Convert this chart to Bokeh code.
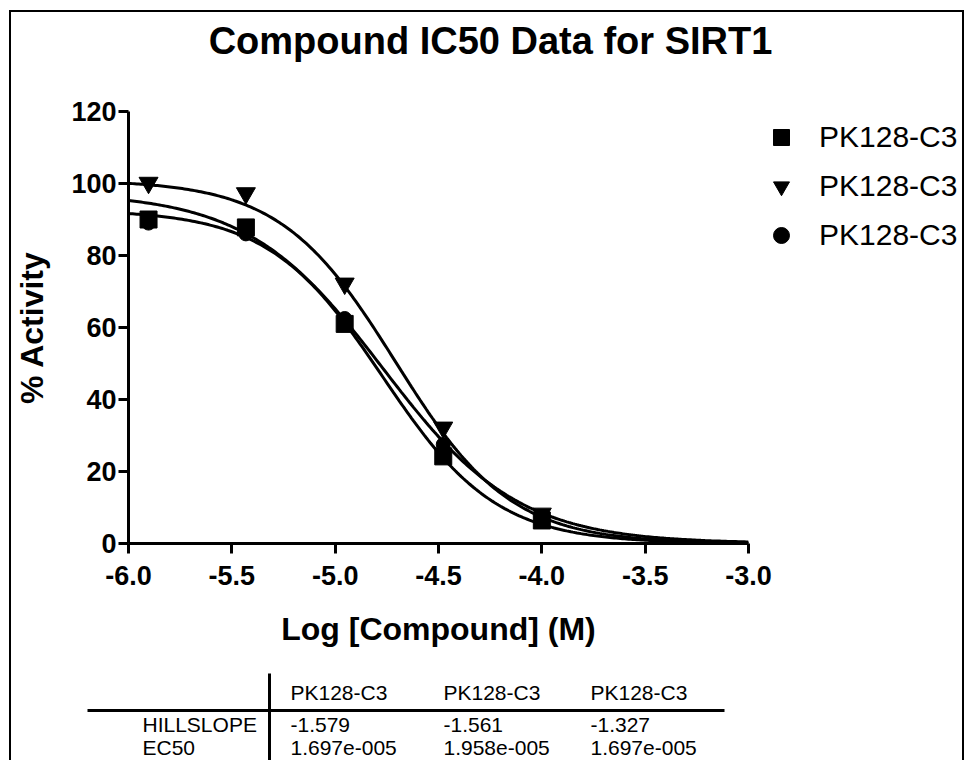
import numpy as np
from bokeh.plotting import figure
from bokeh.models import (Range1d, FixedTicker, PrintfTickFormatter, Legend, LegendItem,
                          ColumnDataSource, Spacer)
from bokeh.layouts import column, row
from bokeh.embed import file_html
from bokeh.resources import INLINE
from bokeh.core.properties import value

# ---------------- data ----------------
log_conc = [-5.903, -5.432, -4.954, -4.477, -4.000]          # Log [Compound] (M)
series_names = ["PK128-C3", "PK128-C3", "PK128-C3"]
series_markers = ["square", "inverted_triangle", "circle"]
act_square = [90.0, 87.8, 61.0, 24.2, 6.4]
act_triangle = [100.2, 97.3, 72.2, 32.2, 8.3]
act_circle = [89.0, 86.0, 62.5, 27.5, 6.5]
hillslope = [-1.579, -1.561, -1.327]
ec50 = [1.697e-05, 1.958e-05, 1.697e-05]
ec50_text = ["1.697e-005", "1.958e-005", "1.697e-005"]
fit_top = [92.7, 101.0, 97.5]
fit_bottom = [0.0, 0.0, 0.0]
x_ticks = [-6.0, -5.5, -5.0, -4.5, -4.0, -3.5, -3.0]
y_ticks = [0, 20, 40, 60, 80, 100, 120]
table_rows = ["HILLSLOPE", "EC50"]

TITLE = "Compound IC50 Data for SIRT1"
FONT = "Liberation Sans"

# ---------------- geometry (picture pixels) ----------------
PAD_L, PAD_T = 9, 10          # white space outside the frame border
BORDER = 2
W = 951                       # total inner width
CX, CY = PAD_L + BORDER, PAD_T + BORDER   # inner origin in picture
FR_L, FR_R, FR_T, FR_B = 128, 748, 111, 543
TOP_PAD = 20                  # room above the frame for the "120" label
H_TOP = FR_T - TOP_PAD - CY   # title strip
MAIN_TOP = CY + H_TOP
TAB_TOP = 655
H_MAIN = TAB_TOP - MAIN_TOP   # plot strip (frame + x axis)
H_TAB = 105                   # table strip
LEG_L = 772                   # left edge of legend strip
W_MAIN = LEG_L - CX
W_LEG = W - W_MAIN


def strip(width, height, x0=0):
    f = figure(width=width, height=height, output_backend="svg", toolbar_location=None,
               x_range=Range1d(x0, x0 + width), y_range=Range1d(height, 0),
               min_border_left=0, min_border_right=0, min_border_top=0,
               min_border_bottom=0, frame_align=False)
    f.axis.visible = False
    f.grid.visible = False
    f.outline_line_color = None
    f.border_fill_color = "white"
    f.background_fill_color = "white"
    return f


# ---------------- title strip ----------------
ptop = strip(W, H_TOP)
ptop.text(x=[490 - CX], y=[40 - CY], text=[TITLE], text_font=value(FONT),
          text_font_style="bold", text_font_size="38px", text_align="center",
          text_baseline="middle", text_color="black")

# ---------------- main plot ----------------
p = figure(width=W_MAIN, height=H_MAIN, output_backend="svg", toolbar_location=None,
           x_range=Range1d(x_ticks[0], x_ticks[-1]), y_range=Range1d(y_ticks[0], y_ticks[-1]),
           min_border_left=FR_L - CX, min_border_right=W_MAIN - (FR_R - CX),
           min_border_top=TOP_PAD, min_border_bottom=H_MAIN - (FR_B - MAIN_TOP),
           frame_align=False)
p.outline_line_color = None
p.grid.visible = False
p.background_fill_color = "white"
p.border_fill_color = "white"

# fitted curves (four-parameter logistic with the fitted Hill slope / EC50)
x_fit = np.linspace(x_ticks[0], x_ticks[-1], 301)
for top, bot, h, ec in zip(fit_top, fit_bottom, hillslope, ec50):
    y_fit = bot + (top - bot) / (1 + 10 ** ((np.log10(ec) - x_fit) * h))
    p.line(x_fit, y_fit, line_color="black", line_width=3)

series_y = [act_square, act_triangle, act_circle]
series_size = [17, 19, 14]
for ys, mk, sz in zip(series_y, series_markers, series_size):
    p.scatter(log_conc, ys, marker=mk, size=sz, color="black")

for ax in p.xaxis + p.yaxis:
    ax.axis_line_width = 3
    ax.major_tick_line_width = 3
    ax.major_tick_out = 10
    ax.major_tick_in = 0
    ax.minor_tick_out = 0
    ax.minor_tick_in = 0
    ax.major_label_text_font = FONT
    ax.major_label_text_font_style = "bold"
    ax.major_label_text_font_size = "27px"
    ax.major_label_text_color = "black"
    ax.axis_label_text_font = FONT
    ax.axis_label_text_font_style = "bold"
    ax.axis_label_text_color = "black"
    ax.axis_label_text_font_size = "32px"

p.xaxis.ticker = FixedTicker(ticks=x_ticks)
p.xaxis.formatter = PrintfTickFormatter(format="%.1f")
p.xaxis.axis_label = "Log [Compound] (M)"
p.xaxis.major_label_standoff = 12
p.xaxis.axis_label_standoff = 23

p.yaxis.ticker = FixedTicker(ticks=y_ticks)
p.yaxis.axis_label = "% Activity"
p.yaxis.major_label_standoff = 2
p.yaxis.axis_label_standoff = 18

# ---------------- legend strip ----------------
# the series are also added here, far outside the strip's visible x range, so the
# legend has real renderers to draw its symbols from
pleg = strip(W_LEG, H_MAIN, x0=1000)
items = []
for name, ys, mk in zip(series_names, series_y, series_markers):
    r = pleg.scatter(log_conc, ys, marker=mk, size=17, color="black")
    items.append(LegendItem(label=name, renderers=[r]))
legend = Legend(items=items, location=(761 - LEG_L, TAB_TOP - 256),
                orientation="vertical",
                glyph_width=40, glyph_height=42, label_height=42, spacing=7,
                label_standoff=18, padding=0, margin=0,
                border_line_color=None, background_fill_alpha=0,
                label_text_font=FONT, label_text_font_size="30px",
                label_text_color="black")
pleg.add_layout(legend)

# ---------------- table strip ----------------
t = strip(W, H_TAB)


def tx(px):
    return px - CX


def ty(py):
    return py - TAB_TOP


t.segment(x0=[tx(269), tx(87)], y0=[ty(673), ty(710)],
          x1=[tx(269), tx(724)], y1=[ty(800), ty(710)],
          line_color="black", line_width=3)

col_x = [tx(290), tx(443), tx(590)]
row_y = [ty(724), ty(747)]
hdr = ColumnDataSource(dict(x=col_x, y=[ty(692)] * 3, text=series_names))
lab = ColumnDataSource(dict(x=[tx(142)] * 2, y=row_y, text=table_rows))
cells_x, cells_y, cells_t = [], [], []
for i in range(3):
    cells_x += [col_x[i], col_x[i]]
    cells_y += row_y
    cells_t += [f"{hillslope[i]:.3f}", ec50_text[i]]
cell = ColumnDataSource(dict(x=cells_x, y=cells_y, text=cells_t))
for src in (hdr, lab, cell):
    t.text(x="x", y="y", text="text", source=src, text_font=value(FONT),
           text_font_size="21px", text_baseline="middle", text_align="left",
           text_color="black")

inner = column(ptop, row(p, pleg, spacing=0), t, spacing=0,
               styles={"border-left": "2px solid black", "border-top": "2px solid black",
                       "border-right": "2px solid black"})
layout = column(Spacer(width=PAD_L + 2 * BORDER + W, height=PAD_T),
                row(Spacer(width=PAD_L, height=H_TOP + H_MAIN + H_TAB), inner, spacing=0),
                spacing=0)

open("out.html", "w").write(file_html(layout, INLINE))
